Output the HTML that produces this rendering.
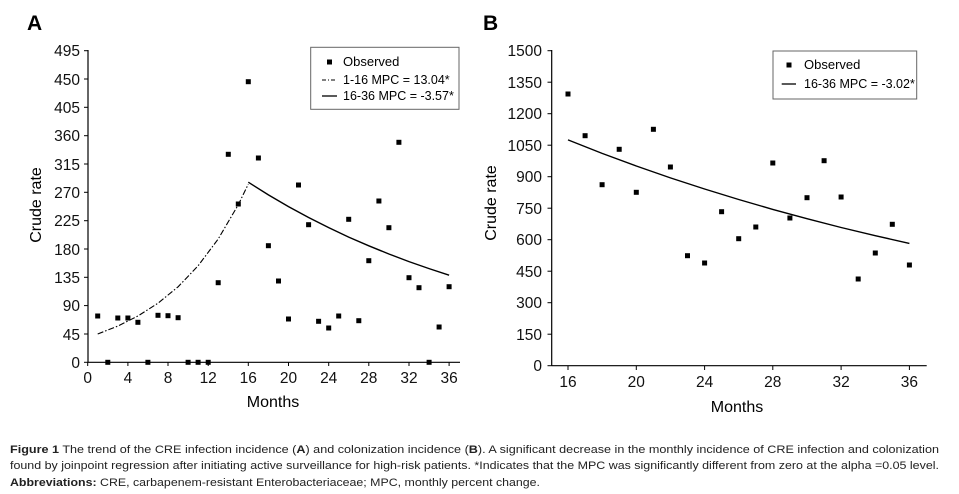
<!DOCTYPE html>
<html><head><meta charset="utf-8"><style>
html,body{margin:0;padding:0;background:#fff;}
svg{display:block;font-family:"Liberation Sans",Arial,sans-serif;}
</style></head><body>
<svg width="959" height="494" viewBox="0 0 959 494">
<rect width="959" height="494" fill="#fff"/>
<!-- Panel A -->
<text x="27" y="30" font-size="21" font-weight="bold">A</text>
<g stroke="#000" stroke-width="1.2" fill="none">
<line x1="88" y1="50" x2="88" y2="362.3"/>
<line x1="88" y1="362.3" x2="460" y2="362.3"/>
</g>
<g stroke="#000" stroke-width="1">
<line x1="84" y1="362.3" x2="88" y2="362.3"/><line x1="84" y1="334" x2="88" y2="334"/><line x1="84" y1="305.6" x2="88" y2="305.6"/><line x1="84" y1="277.3" x2="88" y2="277.3"/><line x1="84" y1="249" x2="88" y2="249"/><line x1="84" y1="220.7" x2="88" y2="220.7"/><line x1="84" y1="192.3" x2="88" y2="192.3"/><line x1="84" y1="164" x2="88" y2="164"/><line x1="84" y1="135.7" x2="88" y2="135.7"/><line x1="84" y1="107.3" x2="88" y2="107.3"/><line x1="84" y1="79" x2="88" y2="79"/><line x1="84" y1="50.7" x2="88" y2="50.7"/>
<line x1="87.7" y1="362" x2="87.7" y2="366"/><line x1="127.9" y1="362" x2="127.9" y2="366"/><line x1="168" y1="362" x2="168" y2="366"/><line x1="208.2" y1="362" x2="208.2" y2="366"/><line x1="248.3" y1="362" x2="248.3" y2="366"/><line x1="288.5" y1="362" x2="288.5" y2="366"/><line x1="328.7" y1="362" x2="328.7" y2="366"/><line x1="368.8" y1="362" x2="368.8" y2="366"/><line x1="409" y1="362" x2="409" y2="366"/><line x1="449.1" y1="362" x2="449.1" y2="366"/>
</g>
<g font-size="15.5" text-anchor="end" fill="#111">
<text x="80" y="368">0</text><text x="80" y="340">45</text><text x="80" y="311">90</text><text x="80" y="283">135</text><text x="80" y="255">180</text><text x="80" y="226">225</text><text x="80" y="198">270</text><text x="80" y="170">315</text><text x="80" y="141">360</text><text x="80" y="113">405</text><text x="80" y="85">450</text><text x="80" y="56">495</text>
</g>
<g font-size="15.5" text-anchor="middle" fill="#111">
<text x="87.7" y="383">0</text><text x="127.9" y="383">4</text><text x="168" y="383">8</text><text x="208.2" y="383">12</text><text x="248.3" y="383">16</text><text x="288.5" y="383">20</text><text x="328.7" y="383">24</text><text x="368.8" y="383">28</text><text x="409" y="383">32</text><text x="449.1" y="383">36</text>
</g>
<text x="273" y="407" font-size="16" text-anchor="middle">Months</text>
<text transform="translate(41,205) rotate(-90)" font-size="16" text-anchor="middle">Crude rate</text>
<polyline fill="none" stroke="#000" stroke-width="1.1" stroke-dasharray="6,2,1.5,2" points="97.7,334 117.8,326.1 137.9,316 158,303.2 178.1,286.8 198.1,265.8 218.2,239 238.3,204.7 248.3,184.1"/>
<polyline fill="none" stroke="#000" stroke-width="1.4" points="248.3,182.2 268.4,194.9 288.5,206.6 308.6,217.5 328.7,227.6 348.7,237.1 368.8,245.8 388.9,254 409,261.6 429.1,268.6 449.1,275.2"/>
<g fill="#000">
<rect x="95.2" y="313.5" width="5" height="5"/><rect x="105.3" y="359.8" width="5" height="5"/><rect x="115.3" y="315.5" width="5" height="5"/><rect x="125.4" y="315.5" width="5" height="5"/><rect x="135.4" y="319.8" width="5" height="5"/><rect x="145.4" y="359.8" width="5" height="5"/><rect x="155.5" y="312.8" width="5" height="5"/><rect x="165.5" y="313.2" width="5" height="5"/><rect x="175.6" y="315.2" width="5" height="5"/><rect x="185.6" y="359.8" width="5" height="5"/><rect x="195.6" y="359.8" width="5" height="5"/><rect x="205.7" y="359.8" width="5" height="5"/><rect x="215.7" y="280.2" width="5" height="5"/><rect x="225.8" y="151.8" width="5" height="5"/><rect x="235.8" y="201.5" width="5" height="5"/><rect x="245.8" y="79.2" width="5" height="5"/><rect x="255.9" y="155.5" width="5" height="5"/><rect x="265.9" y="243.2" width="5" height="5"/><rect x="276" y="278.5" width="5" height="5"/><rect x="286" y="316.5" width="5" height="5"/><rect x="296" y="182.5" width="5" height="5"/><rect x="306.1" y="222.2" width="5" height="5"/><rect x="316.1" y="318.8" width="5" height="5"/><rect x="326.2" y="325.5" width="5" height="5"/><rect x="336.2" y="313.5" width="5" height="5"/><rect x="346.2" y="216.8" width="5" height="5"/><rect x="356.3" y="318.2" width="5" height="5"/><rect x="366.3" y="258.2" width="5" height="5"/><rect x="376.4" y="198.5" width="5" height="5"/><rect x="386.4" y="225.2" width="5" height="5"/><rect x="396.4" y="139.8" width="5" height="5"/><rect x="406.5" y="275.2" width="5" height="5"/><rect x="416.5" y="285.2" width="5" height="5"/><rect x="426.6" y="359.8" width="5" height="5"/><rect x="436.6" y="324.5" width="5" height="5"/><rect x="446.6" y="284.2" width="5" height="5"/>
</g>
<rect x="310.7" y="47.3" width="148.3" height="62" fill="#fff" stroke="#666" stroke-width="1"/>
<rect x="327" y="59.5" width="5" height="5" fill="#000"/>
<text x="343" y="66" font-size="13">Observed</text>
<line x1="322" y1="80" x2="337" y2="80" stroke="#000" stroke-width="1" stroke-dasharray="4,2,1,2"/>
<text x="343" y="84" font-size="12.5">1-16 MPC = 13.04*</text>
<line x1="322" y1="96" x2="337" y2="96" stroke="#000" stroke-width="1.3"/>
<text x="343" y="100" font-size="12.5">16-36 MPC = -3.57*</text>

<!-- Panel B -->
<text x="483" y="30" font-size="21" font-weight="bold">B</text>
<g stroke="#000" stroke-width="1.2" fill="none">
<line x1="551.7" y1="50" x2="551.7" y2="365.7"/>
<line x1="551.7" y1="365.7" x2="926.7" y2="365.7"/>
</g>
<g stroke="#000" stroke-width="1">
<line x1="547.5" y1="365.7" x2="551.7" y2="365.7"/><line x1="547.5" y1="334.2" x2="551.7" y2="334.2"/><line x1="547.5" y1="302.7" x2="551.7" y2="302.7"/><line x1="547.5" y1="271.2" x2="551.7" y2="271.2"/><line x1="547.5" y1="239.7" x2="551.7" y2="239.7"/><line x1="547.5" y1="208.2" x2="551.7" y2="208.2"/><line x1="547.5" y1="176.7" x2="551.7" y2="176.7"/><line x1="547.5" y1="145.2" x2="551.7" y2="145.2"/><line x1="547.5" y1="113.7" x2="551.7" y2="113.7"/><line x1="547.5" y1="82.2" x2="551.7" y2="82.2"/><line x1="547.5" y1="50.7" x2="551.7" y2="50.7"/>
<line x1="568" y1="365.7" x2="568" y2="370"/><line x1="636.3" y1="365.7" x2="636.3" y2="370"/><line x1="704.6" y1="365.7" x2="704.6" y2="370"/><line x1="772.8" y1="365.7" x2="772.8" y2="370"/><line x1="841.1" y1="365.7" x2="841.1" y2="370"/><line x1="909.4" y1="365.7" x2="909.4" y2="370"/>
</g>
<g font-size="15.5" text-anchor="end" fill="#111">
<text x="542" y="371">0</text><text x="542" y="340">150</text><text x="542" y="308">300</text><text x="542" y="277">450</text><text x="542" y="245">600</text><text x="542" y="214">750</text><text x="542" y="182">900</text><text x="542" y="151">1050</text><text x="542" y="119">1200</text><text x="542" y="88">1350</text><text x="542" y="56">1500</text>
</g>
<g font-size="15.5" text-anchor="middle" fill="#111">
<text x="568" y="387">16</text><text x="636.3" y="387">20</text><text x="704.6" y="387">24</text><text x="772.8" y="387">28</text><text x="841.1" y="387">32</text><text x="909.4" y="387">36</text>
</g>
<text x="737" y="412" font-size="16" text-anchor="middle">Months</text>
<text transform="translate(496,203) rotate(-90)" font-size="16" text-anchor="middle">Crude rate</text>
<polyline fill="none" stroke="#000" stroke-width="1.4" points="568,139.9 602.1,153.4 636.3,166 670.4,177.9 704.6,189 738.7,199.5 772.8,209.4 807,218.7 841.1,227.5 875.3,235.7 909.4,243.4"/>
<g fill="#000">
<rect x="565.5" y="91.5" width="5" height="5"/><rect x="582.6" y="133.2" width="5" height="5"/><rect x="599.6" y="182.2" width="5" height="5"/><rect x="616.7" y="146.8" width="5" height="5"/><rect x="633.8" y="189.8" width="5" height="5"/><rect x="650.9" y="126.8" width="5" height="5"/><rect x="667.9" y="164.5" width="5" height="5"/><rect x="685" y="253.2" width="5" height="5"/><rect x="702.1" y="260.5" width="5" height="5"/><rect x="719.1" y="209.2" width="5" height="5"/><rect x="736.2" y="236.2" width="5" height="5"/><rect x="753.3" y="224.5" width="5" height="5"/><rect x="770.3" y="160.5" width="5" height="5"/><rect x="787.4" y="215.5" width="5" height="5"/><rect x="804.5" y="195.2" width="5" height="5"/><rect x="821.6" y="158.2" width="5" height="5"/><rect x="838.6" y="194.5" width="5" height="5"/><rect x="855.7" y="276.5" width="5" height="5"/><rect x="872.8" y="250.5" width="5" height="5"/><rect x="889.8" y="221.8" width="5" height="5"/><rect x="906.9" y="262.5" width="5" height="5"/>
</g>
<rect x="773" y="51" width="143.7" height="48" fill="#fff" stroke="#666" stroke-width="1"/>
<rect x="786.5" y="62.5" width="5" height="5" fill="#000"/>
<text x="804" y="69" font-size="13">Observed</text>
<line x1="781.7" y1="84" x2="796" y2="84" stroke="#000" stroke-width="1.3"/>
<text x="804" y="88" font-size="12.5">16-36 MPC = -3.02*</text>

<!-- Caption -->
<g font-size="11.3" fill="#222">
<text x="10" y="453" textLength="929" lengthAdjust="spacingAndGlyphs"><tspan font-weight="bold">Figure 1</tspan> The trend of the CRE infection incidence (<tspan font-weight="bold">A</tspan>) and colonization incidence (<tspan font-weight="bold">B</tspan>). A significant decrease in the monthly incidence of CRE infection and colonization</text>
<text x="10" y="469" textLength="929" lengthAdjust="spacingAndGlyphs">found by joinpoint regression after initiating active surveillance for high-risk patients. *Indicates that the MPC was significantly different from zero at the alpha =0.05 level.</text>
<text x="10" y="486" textLength="530" lengthAdjust="spacingAndGlyphs"><tspan font-weight="bold">Abbreviations:</tspan> CRE, carbapenem-resistant Enterobacteriaceae; MPC, monthly percent change.</text>
</g>
</svg>
</body></html>
